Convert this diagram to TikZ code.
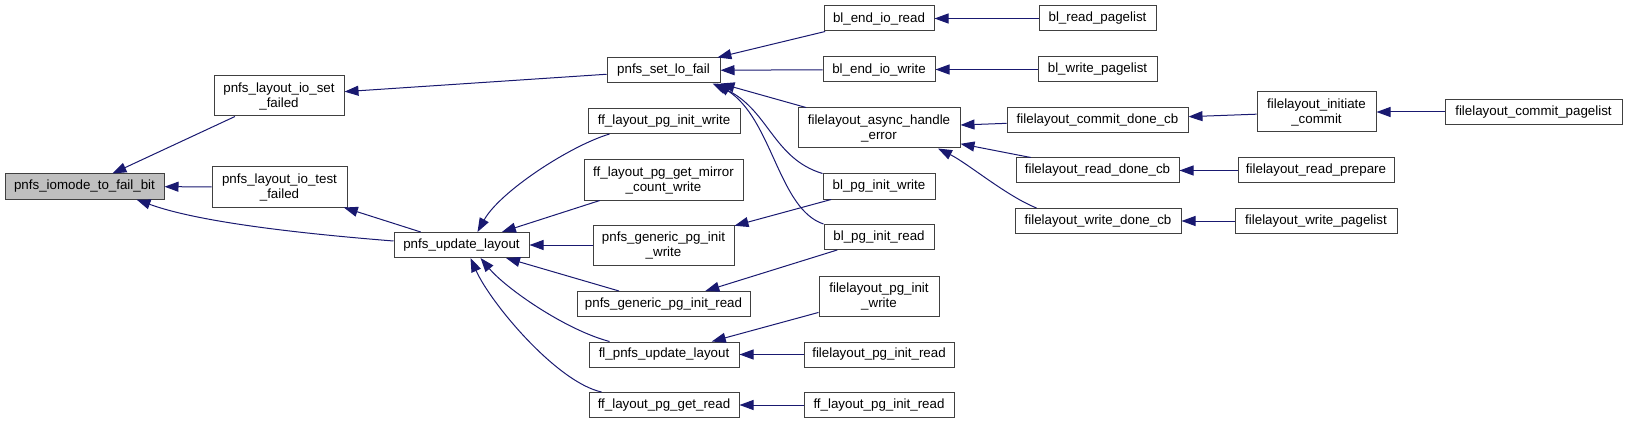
\documentclass[tikz,border=0pt]{standalone}
\usepackage{fontspec}
\setmainfont{Liberation Sans}
\usetikzlibrary{arrows.meta,calc}
\definecolor{edgeblue}{HTML}{191970}
\definecolor{boxgray}{HTML}{404040}
\definecolor{rootfill}{HTML}{BFBFBF}

\begin{document}
\begin{tikzpicture}[
  x=0.75pt, y=-0.75pt,
  % Global box styling
  every node/.style={draw=boxgray, line width=0.75pt, fill=white, inner sep=0pt, align=center, font=\fontsize{10}{11.25}\selectfont},
  % Box sizes (in pixels)
  oneline/.style={minimum height={25*0.75pt}},
  twoline/.style={minimum height={40*0.75pt}},
  w/.style={minimum width={#1*0.75pt}},
  % Specific styles
  root/.style={fill=rootfill},
  call/.style={draw=edgeblue, line width=0.75pt, -{Triangle[length=10.5pt,width=7.5pt]}}
]
\useasboundingbox (0,0) rectangle (1627,424);

% Column 0 and 1
\node[root, oneline, w=159] (iomode) at (84.5,186.5) {pnfs\_iomode\_to\_fail\_bit};
\node[twoline, w=130] (setfailed) at (279,96) {pnfs\_layout\_io\_set\\\_failed};
\node[twoline, w=135] (testfailed) at (279.5,187) {pnfs\_layout\_io\_test\\\_failed};
\node[oneline, w=135] (update) at (461.5,245) {pnfs\_update\_layout};

% Column 2
\node[oneline, w=113] (setlofail) at (663.5,70.5) {pnfs\_set\_lo\_fail};
\node[oneline, w=152] (ffinitw) at (664,121) {ff\_layout\_pg\_init\_write};
\node[twoline, w=159] (ffmirror) at (663.5,180) {ff\_layout\_pg\_get\_mirror\\\_count\_write};
\node[twoline, w=141] (genw) at (663.5,245) {pnfs\_generic\_pg\_init\\\_write};
\node[oneline, w=173] (genr) at (663.5,304) {pnfs\_generic\_pg\_init\_read};
\node[oneline, w=150] (flupdate) at (664,354.5) {fl\_pnfs\_update\_layout};
\node[oneline, w=150] (ffgetr) at (664,405) {ff\_layout\_pg\_get\_read};

% Column 3
\node[oneline, w=110] (blendr) at (879,18.5) {bl\_end\_io\_read};
\node[oneline, w=112] (blendw) at (879,69.5) {bl\_end\_io\_write};
\node[twoline, w=162] (async) at (879,128) {filelayout\_async\_handle\\\_error};
\node[oneline, w=112] (blpgw) at (879,186.5) {bl\_pg\_init\_write};
\node[oneline, w=110] (blpgr) at (879,237) {bl\_pg\_init\_read};
\node[twoline, w=120] (flpgw) at (879,296) {filelayout\_pg\_init\\\_write};
\node[oneline, w=150] (flpgr) at (879,354.5) {filelayout\_pg\_init\_read};
\node[oneline, w=150] (ffpgr) at (879,405) {ff\_layout\_pg\_init\_read};

% Column 4
\node[oneline, w=117] (blrp) at (1097.5,18.5) {bl\_read\_pagelist};
\node[oneline, w=119] (blwp) at (1097.5,69.5) {bl\_write\_pagelist};
\node[oneline, w=181] (commitcb) at (1097.5,120) {filelayout\_commit\_done\_cb};
\node[oneline, w=163] (readcb) at (1097.5,170.5) {filelayout\_read\_done\_cb};
\node[oneline, w=166] (writecb) at (1098,221) {filelayout\_write\_done\_cb};

% Column 5 and 6
\node[twoline, w=119] (initcommit) at (1316.5,112) {filelayout\_initiate\\\_commit};
\node[oneline, w=156] (readprep) at (1316,170.5) {filelayout\_read\_prepare};
\node[oneline, w=162] (writepl) at (1316,221) {filelayout\_write\_pagelist};
\node[oneline, w=177] (commitpl) at (1533.5,112) {filelayout\_commit\_pagelist};

% Calls into the root
\draw[call] (setfailed) -- (iomode);
\draw[call] (testfailed) -- (iomode);
\draw[call] ($(update.west)+(0,-4)$) .. controls +(-100,-8) and +(60,22) .. ($(iomode.south)+(52,0)$);
\draw[call] (setlofail) -- (setfailed);
\draw[call] (update) -- (testfailed);

% Calls into pnfs_set_lo_fail
\draw[call] (blendr) -- (setlofail);
\draw[call] (blendw) -- (setlofail);
\draw[call] (async) -- (setlofail.south east);
\draw[call] (blpgw.north west) .. controls +(-50,-15) and +(56,25) .. ($(setlofail.south east)+(-8,0)$);
\draw[call] (blpgr.north west) .. controls +(-45,-15) and +(56,36) .. ($(setlofail.south east)+(-4,0)$);

% Calls into pnfs_update_layout
\draw[call] ($(ffinitw.south west)+(22,0)$) .. controls +(-40,12) and +(22,-40) .. ($(update.north)+(16,0)$);
\draw[call] (ffmirror) -- (update);
\draw[call] (genw) -- (update);
\draw[call] (genr) -- (update);
\draw[call] ($(flupdate.north west)+(21,0)$) .. controls +(-45,-12) and +(25,30) .. ($(update.south)+(19,0)$);
\draw[call] ($(ffgetr.north west)+(13,0)$) .. controls +(-45,-10) and +(20,45) .. ($(update.south)+(9,0)$);

% Column 3 to column 2
\draw[call] (blpgw) -- (genw);
\draw[call] (blpgr) -- (genr);
\draw[call] (flpgw) -- (flupdate);
\draw[call] (flpgr) -- (flupdate);
\draw[call] (ffpgr) -- (ffgetr);

% Right part
\draw[call] (blrp) -- (blendr);
\draw[call] (blwp) -- (blendw);
\draw[call] (commitcb) -- (async);
\draw[call] (readcb) -- (async);
\draw[call] ($(writecb.north west)+(22,0)$) .. controls +(-30,-12) and +(30,15) .. ($(async.south)+(59,0)$);
\draw[call] (initcommit) -- (commitcb);
\draw[call] (readprep) -- (readcb);
\draw[call] (writepl) -- (writecb);
\draw[call] (commitpl) -- (initcommit);

\end{tikzpicture}
\end{document}
